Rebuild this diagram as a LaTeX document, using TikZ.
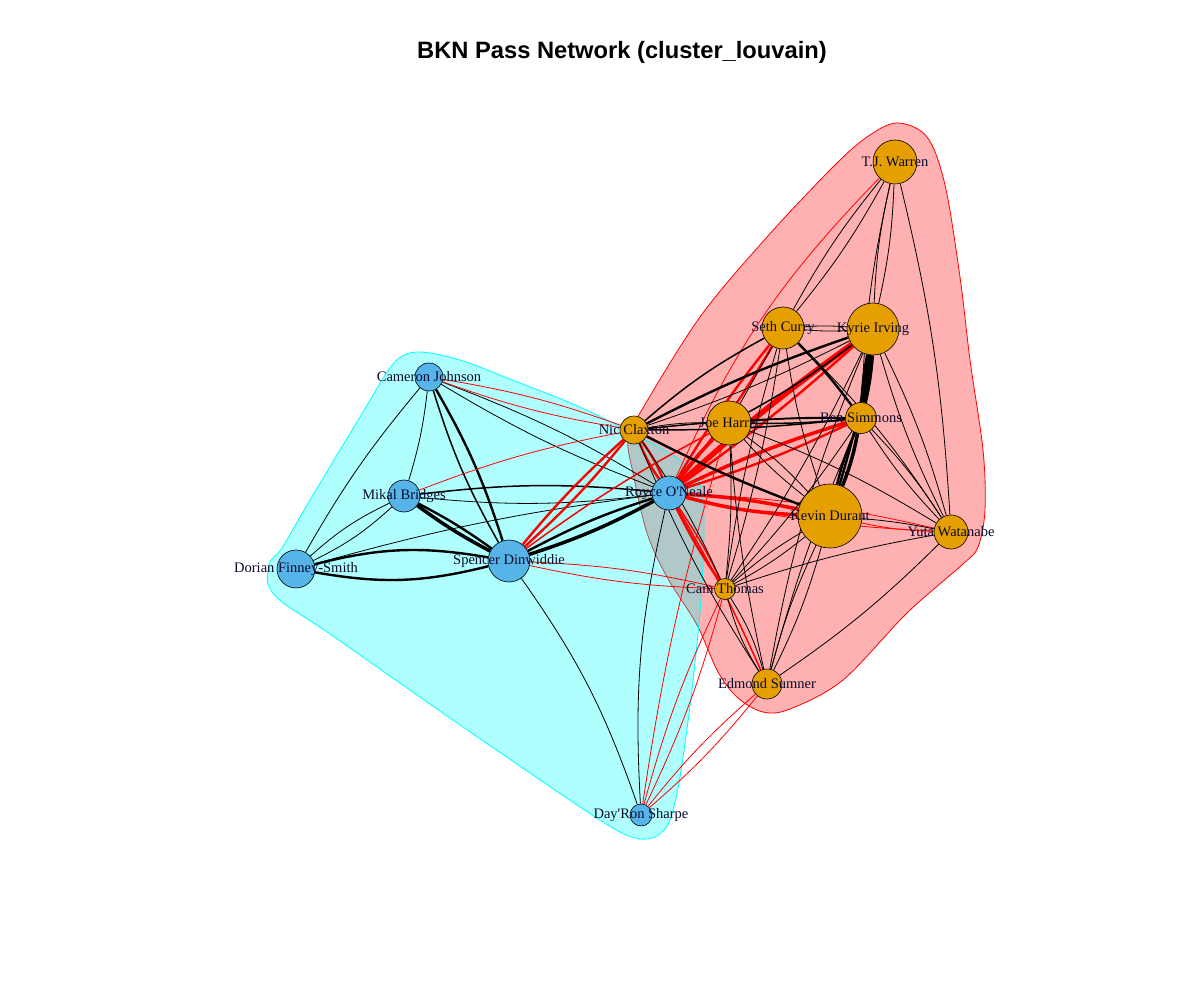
\documentclass[tikz,border=0pt]{standalone}
\usepackage{fontspec}
\setmainfont{Liberation Serif}
\newfontfamily\titlefont{Liberation Sans}
\definecolor{nodeor}{HTML}{E69F00}
\definecolor{nodebl}{HTML}{56B4E9}
\definecolor{labcol}{RGB}{10,10,45}
\definecolor{hullcyan}{RGB}{0,255,255}
\definecolor{hullred}{RGB}{255,0,0}
\pgfdeclarelayer{hulls}
\pgfdeclarelayer{edges}
\pgfsetlayers{hulls,edges,main}
\tikzset{
 pl/.style={circle,draw=black,line width=0.6pt,inner sep=0pt},
 po/.style={pl,fill=nodeor},
 pb/.style={pl,fill=nodebl},
 lab/.style={font=\fontsize{14.5}{16}\selectfont,text=labcol,inner sep=0pt},
 eb/.style={draw=black,line width=0.8pt},
 er/.style={draw=hullred,line width=0.8pt},
 w1/.style={line width=1.5pt},
 w2/.style={line width=2.4pt},
 w3/.style={line width=3.5pt},
 w4/.style={line width=5.5pt},
 hullr/.style={draw=hullred,line width=0.8pt,fill=hullred,fill opacity=0.31},
 hullc/.style={draw=hullcyan,line width=0.8pt,fill=hullcyan,fill opacity=0.31},
}
\begin{document}
\begin{tikzpicture}[x=1pt,y=-1pt]
\useasboundingbox (0,0) rectangle (1200,1000);
\node (title) at (622,52) {\titlefont\bfseries\fontsize{23.7}{26}\selectfont BKN Pass Network (cluster\_louvain)};
% hulls
\begin{pgfonlayer}{hulls}
\draw[hullr] plot[smooth cycle,tension=0.55] coordinates {
 (897,123) (927,137) (945,185) (960,277) (970,360) (983,450) (985,510) (978,547) (963,564)
 (907,613) (843,680) (790,709) (763,712) (738,698) (718,672) (697,625) (667,577) (647,533)
 (633,473) (628,440) (640,413) (700,317) (767,237) (833,167) (867,137)};
\draw[hullc] plot[smooth cycle,tension=0.5] coordinates {
 (417,352) (460,360) (520,383) (580,407) (640,437) (680,460) (700,485) (704,525) (701,600)
 (692,690) (680,777) (670,820) (657,836) (640,839) (620,832) (580,807) (450,718) (330,634)
 (282,602) (268,584) (270,562) (282,548) (310,500) (360,417) (393,364)};
\end{pgfonlayer}
% nodes
\node[po,minimum size=44pt] (tj) at (895,162) {};
\node[po,minimum size=42pt] (sc) at (783,328) {};
\node[po,minimum size=52pt] (ki) at (873,329) {};
\node[po,minimum size=28pt] (nc) at (634,430) {};
\node[po,minimum size=44pt] (jh) at (729,423) {};
\node[po,minimum size=31pt] (bs) at (861,418) {};
\node[pb,minimum size=34pt] (ro) at (669,493) {};
\node[po,minimum size=64pt] (kd) at (830,516) {};
\node[po,minimum size=34pt] (yw) at (951,532) {};
\node[po,minimum size=21pt] (ct) at (725,589) {};
\node[po,minimum size=30pt] (es) at (767,684) {};
\node[pb,minimum size=22pt] (ds) at (641,815) {};
\node[pb,minimum size=28pt] (cj) at (429,377) {};
\node[pb,minimum size=32pt] (mb) at (404,496) {};
\node[pb,minimum size=38pt] (dfs) at (296,569) {};
\node[pb,minimum size=42pt] (sd) at (509,561) {};
% labels
\node[lab] (tj-l) at (tj) {T.J. Warren};
\node[lab] (sc-l) at (sc) {Seth Curry};
\node[lab] (ki-l) at (ki) {Kyrie Irving};
\node[lab] (nc-l) at (nc) {Nic Claxton};
\node[lab] (jh-l) at (jh) {Joe Harris};
\node[lab] (bs-l) at (bs) {Ben Simmons};
\node[lab] (ro-l) at (ro) {Royce O\textquotesingle Neale};
\node[lab] (kd-l) at (kd) {Kevin Durant};
\node[lab] (yw-l) at (yw) {Yuta Watanabe};
\node[lab] (ct-l) at (ct) {Cam Thomas};
\node[lab] (es-l) at (es) {Edmond Sumner};
\node[lab] (ds-l) at (ds) {Day\textquotesingle Ron Sharpe};
\node[lab] (cj-l) at (cj) {Cameron Johnson};
\node[lab] (mb-l) at (mb) {Mikal Bridges};
\node[lab] (dfs-l) at (dfs) {Dorian Finney-Smith};
\node[lab] (sd-l) at (sd) {Spencer Dinwiddie};
% edges
\begin{pgfonlayer}{edges}
% blue cluster
\draw[eb] (cj) to[bend left=5] (mb);
\draw[eb] (cj) to[bend right=5] (dfs);
\draw[eb,w2] (cj) to[bend left=6] (sd);
\draw[eb,w1] (cj) to[bend right=6] (sd);
\draw[eb] (cj) to[bend left=5] (ro);
\draw[eb] (cj) to[bend right=5] (ro);
\draw[eb,w2] (mb) to[bend left=4] (sd);
\draw[eb,w3] (mb) to[bend right=4] (sd);
\draw[eb] (mb) to[bend left=8] (dfs);
\draw[eb] (mb) to[bend right=8] (dfs);
\draw[eb,w1] (mb) to[bend left=6] (ro);
\draw[eb] (mb) to[bend right=6] (ro);
\draw[eb,w2] (dfs) to[bend left=12] (sd);
\draw[eb,w2] (dfs) to[bend right=12] (sd);
\draw[eb] (dfs) to[bend left=4] (ro);
\draw[eb,w2] (sd) to[bend left=5] (ro);
\draw[eb,w3] (sd) to[bend right=5] (ro);
\draw[eb] (sd) to[bend left=8] (ds);
\draw[eb] (ro) to[bend right=8] (ds);
% between clusters
\draw[er] (cj) to[bend left=5] (nc);
\draw[er] (cj) to[bend right=5] (nc);
\draw[er] (mb) to[bend left=5] (nc);
\draw[er,w2] (sd) to[bend left=4] (nc);
\draw[er,w2] (sd) to[bend right=4] (nc);
\draw[er,w1] (sd) to[bend left=4] (jh);
\draw[er] (sd) to[bend left=5] (ct);
\draw[er] (sd) to[bend right=5] (ct);
\draw[er,w2] (ro) to[bend left=6] (nc);
\draw[er,w2] (ro) to[bend right=6] (nc);
\draw[er,w3] (ro) to[bend left=4] (jh);
\draw[er,w2] (ro) to[bend right=4] (sc);
\draw[er,w2] (ro) to[bend left=4] (sc);
\draw[er,w4] (ro) to[bend left=3] (ki);
\draw[er,w2] (ro) to[bend right=3] (ki);
\draw[er,w3] (ro) to[bend left=4] (bs);
\draw[er,w2] (ro) to[bend right=4] (bs);
\draw[er,w3] (ro) to[bend left=4] (kd);
\draw[er,w3] (ro) to[bend right=6] (kd);
\draw[er,w1] (ro) to[bend left=4] (ct);
\draw[er,w2] (ro) to[bend right=4] (ct);
\draw[er,w1] (ro) to[bend left=3] (es);
\draw[er] (ro) to[bend left=5] (yw);
\draw[er] (ro) to[bend right=5] (yw);
\draw[er] (ro) to[bend left=10] (tj);
\draw[er] (ds) to[bend left=4] (jh);
\draw[er] (ds) to[bend left=5] (ct);
\draw[er] (ds) to[bend right=5] (ct);
\draw[er] (ds) to[bend left=5] (es);
\draw[er] (ds) to[bend right=5] (es);
% orange cluster
\draw[eb,w1] (nc) to[bend left=6] (sc);
\draw[eb,w2] (nc) to[bend left=4] (ki);
\draw[eb] (nc) to[bend right=4] (ki);
\draw[eb] (nc) to[bend left=5] (jh);
\draw[eb,w1] (nc) to[bend left=3] (bs);
\draw[eb,w1] (nc) to[bend right=3] (bs);
\draw[eb,w2] (nc) to[bend right=3] (kd);
\draw[eb] (nc) to[bend left=5] (ct);
\draw[eb] (nc) to[bend right=5] (es);
\draw[eb] (sc) to[bend left=4] (ki);
\draw[eb] (sc) to[bend right=4] (ki);
\draw[eb] (sc) to (jh);
\draw[eb,w2] (sc) to[bend left=4] (bs);
\draw[eb] (sc) to[bend right=5] (kd);
\draw[eb] (sc) to[bend left=4] (ct);
\draw[eb] (sc) to[bend right=4] (ct);
\draw[eb] (sc) to[bend left=5] (tj);
\draw[eb] (sc) to[bend right=5] (tj);
\draw[eb] (sc) to[bend left=6] (yw);
\draw[eb] (ki) to[bend left=5] (tj);
\draw[eb] (ki) to[bend right=5] (tj);
\draw[eb,w4] (ki) to[bend left=4] (bs);
\draw[eb,w3] (ki) to[bend right=4] (bs);
\draw[eb,w1] (ki) to[bend left=4] (jh);
\draw[eb,w2] (ki) to[bend left=4] (kd);
\draw[eb] (ki) to[bend left=5] (yw);
\draw[eb] (ki) to[bend right=5] (yw);
\draw[eb] (ki) to[bend left=4] (ct);
\draw[eb] (ki) to[bend right=6] (es);
\draw[eb,w1] (bs) to[bend left=3] (jh);
\draw[eb,w1] (bs) to[bend right=3] (jh);
\draw[eb,w3] (bs) to[bend left=5] (kd);
\draw[eb,w2] (bs) to[bend right=5] (kd);
\draw[eb] (bs) to[bend left=5] (yw);
\draw[eb] (bs) to[bend right=5] (yw);
\draw[eb] (bs) to[bend left=4] (ct);
\draw[eb] (bs) to[bend right=4] (es);
\draw[eb] (bs) to[bend left=5] (tj);
\draw[eb] (tj) to[bend left=5] (yw);
\draw[eb] (jh) to[bend left=5] (kd);
\draw[eb] (jh) to[bend right=5] (kd);
\draw[eb] (jh) to[bend left=4] (ct);
\draw[eb] (jh) to[bend right=4] (es);
\draw[eb] (jh) to[bend left=5] (yw);
\draw[eb] (kd) to[bend left=3] (yw);
\draw[er] (kd) to[bend right=5] (yw);
\draw[eb] (kd) to[bend left=5] (ct);
\draw[eb] (kd) to[bend right=5] (ct);
\draw[eb] (kd) to[bend left=5] (es);
\draw[eb] (kd) to[bend right=5] (es);
\draw[eb] (ct) to[bend left=8] (es);
\draw[eb] (ct) to[bend right=8] (es);
\draw[eb] (ct) to[bend left=4] (yw);
\draw[eb] (es) to[bend right=5] (yw);
\end{pgfonlayer}
\end{tikzpicture}
\end{document}
